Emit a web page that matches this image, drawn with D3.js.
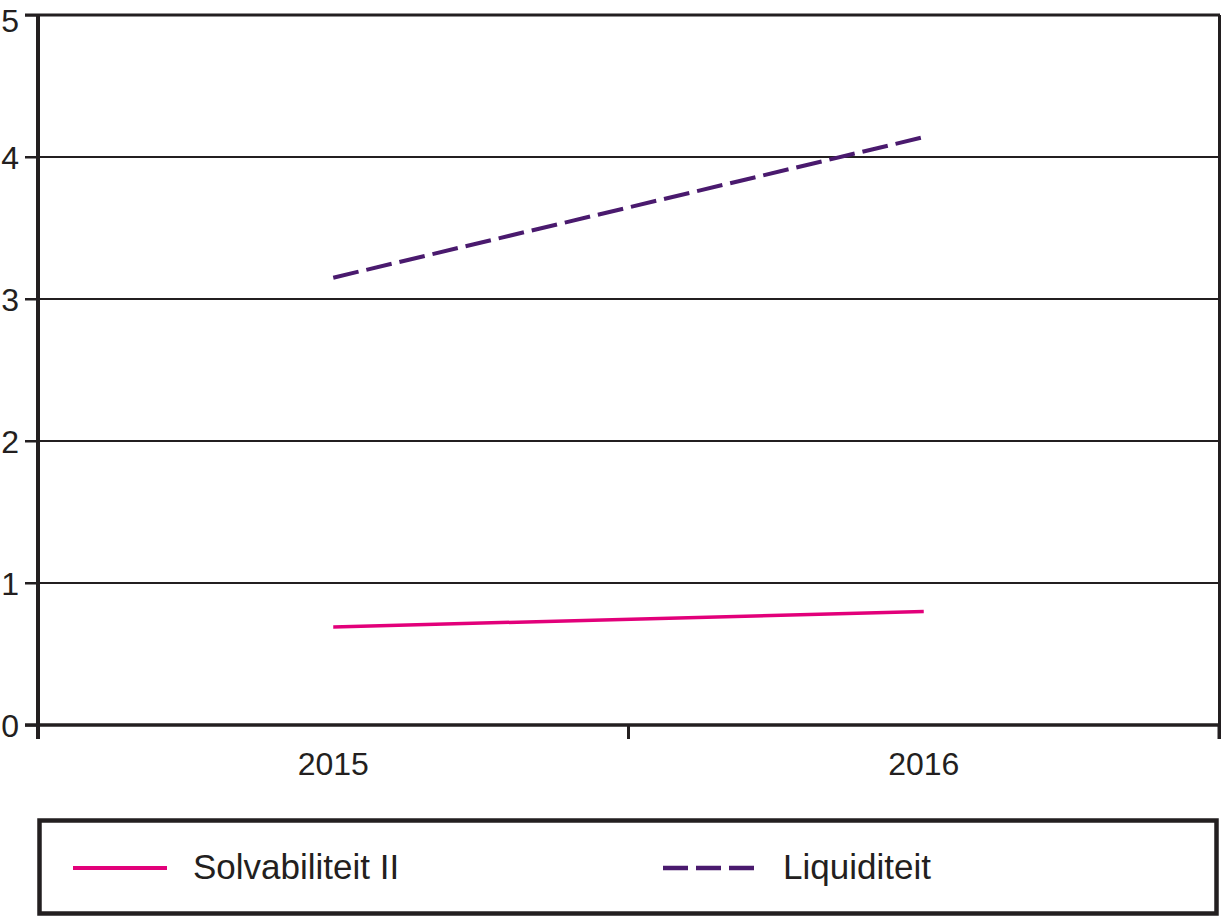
<!DOCTYPE html>
<html>
<head>
<meta charset="utf-8">
<script src="https://cdn.jsdelivr.net/npm/d3@7"></script>
<style>
  html, body { margin: 0; padding: 0; background: #fff; }
  svg { display: block; font-family: "Liberation Sans", Arial, sans-serif; }
</style>
</head>
<body>
<svg id="chart" width="1222" height="917"></svg>
<script>
const categories = ["2015", "2016"];
const solvabiliteit = [0.69, 0.80];
const liquiditeit = [3.15, 4.14];
const yTicks = [0, 1, 2, 3, 4, 5];
const seriesNames = ["Solvabiliteit II", "Liquiditeit"];

const ink = "#231f20";
const pink = "#e2007a";
const purple = "#4a1a6e";

const svg = d3.select("#chart");
const x = d3.scaleBand().domain(categories).range([38, 1219]).paddingInner(0).paddingOuter(0);
const y = d3.scaleLinear().domain([0, 5]).range([725, 15]);

// gridlines
svg.append("g").selectAll("line").data(yTicks.filter(d => d > 0 && d < 5)).join("line")
  .attr("x1", 25).attr("x2", 1219)
  .attr("y1", d => y(d)).attr("y2", d => y(d))
  .attr("stroke", ink).attr("stroke-width", 2);

// top line
svg.append("line").attr("x1", 25).attr("x2", 1220).attr("y1", y(5)).attr("y2", y(5))
  .attr("stroke", ink).attr("stroke-width", 3);
// right border
svg.append("line").attr("x1", 1219.5).attr("x2", 1219.5).attr("y1", y(5)).attr("y2", 739)
  .attr("stroke", ink).attr("stroke-width", 3);

// y axis
const yAxis = d3.axisLeft(y).tickValues(yTicks).tickSize(13).tickPadding(6).tickFormat(d3.format("d"));
const gy = svg.append("g").attr("transform", "translate(38,0)").call(yAxis);
gy.select(".domain").remove();
gy.selectAll(".tick line").attr("stroke", ink).attr("stroke-width", 2);
gy.selectAll(".tick text").attr("fill", ink).attr("font-size", 32)
  .attr("font-family", "Liberation Sans, Arial, sans-serif")
  .attr("dy", d => d === 5 ? "0.5em" : "0.36em");
svg.append("line").attr("x1", 38).attr("x2", 38).attr("y1", y(5) - 1).attr("y2", 739)
  .attr("stroke", ink).attr("stroke-width", 4);

// x axis baseline
svg.append("line").attr("x1", 25).attr("x2", 1220).attr("y1", y(0)).attr("y2", y(0))
  .attr("stroke", ink).attr("stroke-width", 3.5);
// boundary ticks
const bounds = categories.map(c => x(c)).concat([x(categories[categories.length - 1]) + x.bandwidth()]);
svg.append("g").selectAll("line").data(bounds).join("line")
  .attr("x1", d => d).attr("x2", d => d).attr("y1", y(0)).attr("y2", 739)
  .attr("stroke", ink).attr("stroke-width", 3);
// category labels
svg.append("g").selectAll("text").data(categories).join("text")
  .attr("x", d => x(d) + x.bandwidth() / 2).attr("y", 775)
  .attr("text-anchor", "middle").attr("font-size", 32).attr("fill", ink)
  .text(d => d);

// lines
const line = d3.line().x((d, i) => x(categories[i]) + x.bandwidth() / 2).y(d => y(d));
svg.append("path").datum(solvabiliteit).attr("d", line)
  .attr("fill", "none").attr("stroke", pink).attr("stroke-width", 3.5);
svg.append("path").datum(liquiditeit).attr("d", line)
  .attr("fill", "none").attr("stroke", purple).attr("stroke-width", 4)
  .attr("stroke-dasharray", "26,8");

// legend
svg.append("rect").attr("x", 39.5).attr("y", 820.5).attr("width", 1177).attr("height", 93)
  .attr("fill", "none").attr("stroke", ink).attr("stroke-width", 4.5);
const legend = [
  { name: seriesNames[0], color: pink, dash: null, x0: 73 },
  { name: seriesNames[1], color: purple, dash: "25,8", x0: 663 }
];
const lg = svg.append("g").selectAll("g").data(legend).join("g");
lg.append("line").attr("x1", d => d.x0).attr("x2", d => d.x0 + 94)
  .attr("y1", 868).attr("y2", 868)
  .attr("stroke", d => d.color).attr("stroke-width", d => d.dash ? 4.5 : 4)
  .attr("stroke-dasharray", d => d.dash);
lg.append("text").attr("x", d => d.x0 + 120).attr("y", 879)
  .attr("font-size", 35).attr("fill", ink).text(d => d.name);
</script>
</body>
</html>
